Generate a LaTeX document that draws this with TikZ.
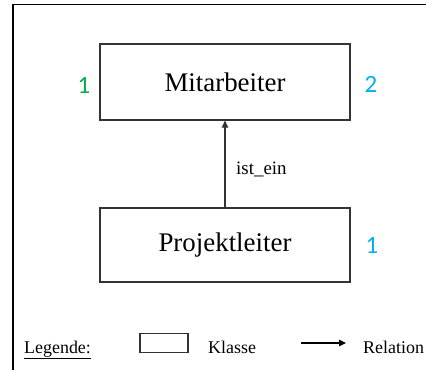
\documentclass[tikz,border=0pt]{standalone}
\usepackage{fontspec}
\setmainfont{Liberation Serif}
\newfontfamily\numfont{Carlito}
\usetikzlibrary{arrows.meta}
\definecolor{numgreen}{HTML}{00B050}
\definecolor{numblue}{HTML}{00B0F0}
\definecolor{boxline}{HTML}{333333}
\tikzset{
  classbox/.style={draw=boxline, line width=1.3bp, minimum width=250bp, minimum height=76bp, inner sep=0pt, font=\fontsize{27}{30}\selectfont},
  numlabel/.style={font=\numfont\fontsize{25}{28}\selectfont, inner sep=0pt},
  reltext/.style={font=\fontsize{19}{22}\selectfont, inner sep=0pt},
  legtext/.style={font=\fontsize{18}{21}\selectfont, inner sep=0pt},
  relarrow/.style={draw=boxline, line width=1.3bp, -{Triangle[length=7bp,width=6.5bp]}}
}
\begin{document}
\begin{tikzpicture}[x=1bp,y=-1bp]
\useasboundingbox (0,0) rectangle (426,370);
\fill[white] (0,0) rectangle (426,370);
\draw[line width=1.3bp] (13,371) -- (13,4.5) -- (427,4.5);
\node[classbox] (mit) at (225,82) {Mitarbeiter};
\node[classbox, minimum height=74bp] (pro) at (225,245) {Projektleiter};
\draw[relarrow] (pro.north) -- (mit.south);
\node[reltext, anchor=west] (ist) at (236,169) {ist\_ein};
\node[numlabel, text=numgreen] (n1) at (84,85) {1};
\node[numlabel, text=numblue] (n2) at (371,84) {2};
\node[numlabel, text=numblue] (n3) at (372,245) {1};
\node[legtext, anchor=base west] (leg) at (24,353) {\underline{Legende:}};
\node[draw=boxline, line width=1.2bp, minimum width=48bp, minimum height=19bp, inner sep=0pt] (lbox) at (164,343) {};
\node[legtext, anchor=base west] (kl) at (208,353) {Klasse};
\coordinate (as) at (301,343);
\coordinate (ae) at (346,343);
\draw[line width=1.2bp, -{Triangle[length=7bp,width=6.5bp]}] (as) -- (ae);
\node[legtext, anchor=base west] (rel) at (363,353) {Relation};
\end{tikzpicture}
\end{document}
